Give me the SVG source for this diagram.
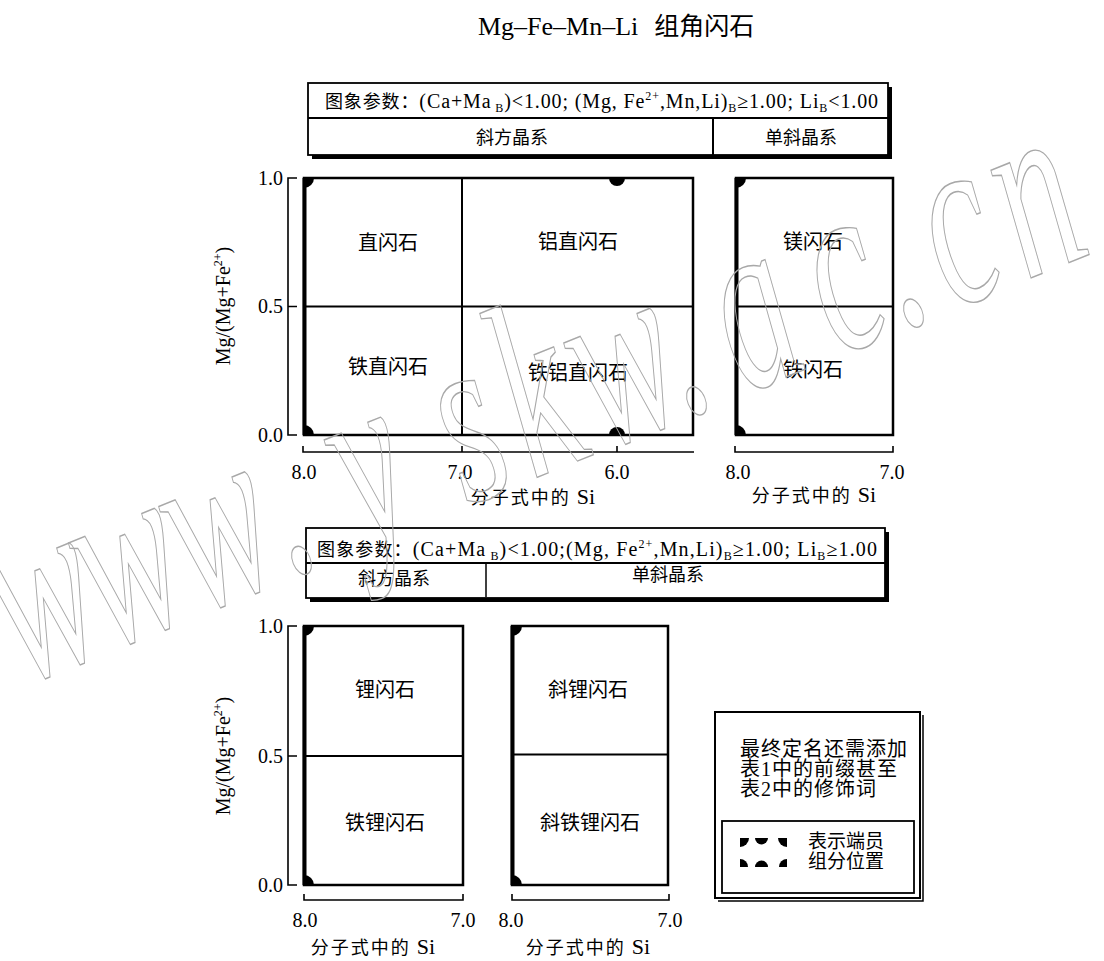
<svg xmlns="http://www.w3.org/2000/svg" width="1104" height="961" viewBox="0 0 1104 961">
<style>
.t{font-family:"Liberation Serif","Noto Sans CJK SC",serif;fill:#000}
.c{text-anchor:middle}
.e{text-anchor:end}
.f{fill:none;stroke:#000;stroke-width:2.5}
.l{fill:none;stroke:#000;stroke-width:2}
.ax{fill:none;stroke:#000;stroke-width:1.6}
.thk{fill:none;stroke:#000;stroke-width:4}
.d{fill:#000}
.si{font-size:18px;letter-spacing:2px}
.wm{font-family:"Liberation Serif",serif;font-style:italic;font-size:250px;fill:none;stroke:#a8a8a8;stroke-width:1.2}
</style>
<rect width="1104" height="961" fill="#fff"/>

<g id="title">
<text class="t" x="478" y="35" font-size="26">Mg–Fe–Mn–Li<tspan font-size="25" dx="16">组角闪石</tspan></text>
</g>

<g id="header-top">
<rect x="312" y="87" width="580" height="72" class="d"/>
<rect x="308" y="83" width="580" height="72" fill="#fff" stroke="#000" stroke-width="1.8"/>
<line x1="308" y1="118" x2="888" y2="118" class="l"/>
<line x1="713" y1="118" x2="713" y2="155" class="l"/>
<text class="t" x="325" y="108" font-size="20" textLength="553" lengthAdjust="spacing"><tspan font-size="18">图象参数：</tspan>(Ca+Ma<tspan font-size="12" dy="4"> B</tspan><tspan dy="-4">)&lt;1.00; (Mg, Fe</tspan><tspan font-size="12" dy="-8">2+</tspan><tspan dy="8">,Mn,Li)</tspan><tspan font-size="12" dy="4">B</tspan><tspan dy="-4">≥1.00; Li</tspan><tspan font-size="12" dy="4">B</tspan><tspan dy="-4">&lt;1.00</tspan></text>
<text class="t c" x="512" y="144" font-size="18">斜方晶系</text>
<text class="t c" x="801" y="144" font-size="18">单斜晶系</text>
</g>

<g id="plot-top-ortho">
<rect x="304" y="178" width="389" height="257" class="f"/>
<line x1="304.5" y1="178" x2="304.5" y2="435" class="thk"/>
<line x1="304" y1="306.5" x2="693" y2="306.5" class="l"/>
<line x1="462" y1="178" x2="462" y2="435" class="l"/>
<path class="d" d="M304,178 H314 A10,10 0 0 1 304,188 Z"/>
<path class="d" d="M304,435 V425 A10,10 0 0 1 314,435 Z"/>
<path class="d" d="M609,178 A8,8 0 0 0 625,178 Z"/>
<path class="d" d="M609,435 A8,8 0 0 1 625,435 Z"/>
<text class="t c" x="388" y="250" font-size="20">直闪石</text>
<text class="t c" x="388" y="374" font-size="20">铁直闪石</text>
<text class="t c" x="578" y="249" font-size="20">铝直闪石</text>
<text class="t c" x="578" y="380" font-size="20">铁铝直闪石</text>
</g>

<g id="plot-top-mono">
<rect x="736" y="178" width="157" height="257" class="f"/>
<line x1="736.5" y1="178" x2="736.5" y2="435" class="thk"/>
<line x1="736" y1="306.5" x2="893" y2="306.5" class="l"/>
<path class="d" d="M736,178 H746 A10,10 0 0 1 736,188 Z"/>
<path class="d" d="M736,435 V425 A10,10 0 0 1 746,435 Z"/>
<text class="t c" x="813" y="249" font-size="20">镁闪石</text>
<text class="t c" x="813" y="377" font-size="20">铁闪石</text>
</g>

<g id="axes-top">
<path class="ax" d="M297,178 H288 V435 H297 M288,306.5 H297"/>
<text class="t e" x="283" y="185" font-size="20">1.0</text>
<text class="t e" x="283" y="313" font-size="20">0.5</text>
<text class="t e" x="283" y="442" font-size="20">0.0</text>
<text class="t c" transform="translate(230,306) rotate(-90)" font-size="20">Mg/(Mg+Fe<tspan font-size="12" dy="-8">2+</tspan><tspan dy="8">)</tspan></text>
<path class="ax" d="M303,446 V452 H694 M462,446 V452 M617,446 V452"/>
<text class="t c" x="304" y="479" font-size="20">8.0</text>
<text class="t c" x="460" y="479" font-size="20">7.0</text>
<text class="t c" x="617" y="479" font-size="20">6.0</text>
<text class="t c si" x="533" y="504">分子式中的<tspan font-size="22" dx="6" letter-spacing="0">Si</tspan></text>
<path class="ax" d="M735,446 V452 H893 V446"/>
<text class="t c" x="738" y="479" font-size="20">8.0</text>
<text class="t c" x="892" y="479" font-size="20">7.0</text>
<text class="t c si" x="814" y="502">分子式中的<tspan font-size="22" dx="6" letter-spacing="0">Si</tspan></text>
</g>

<g id="header-bottom">
<rect x="310" y="532" width="579" height="70" class="d"/>
<rect x="306" y="528" width="579" height="70" fill="#fff" stroke="#000" stroke-width="1.8"/>
<line x1="306" y1="563" x2="885" y2="563" class="l"/>
<line x1="486" y1="563" x2="486" y2="597" stroke="#000" stroke-width="1.5"/>
<text class="t" x="317" y="556" font-size="20" textLength="560" lengthAdjust="spacing"><tspan font-size="18">图象参数：</tspan>(Ca+Ma<tspan font-size="12" dy="4"> B</tspan><tspan dy="-4">)&lt;1.00;(Mg, Fe</tspan><tspan font-size="12" dy="-8">2+</tspan><tspan dy="8">,Mn,Li)</tspan><tspan font-size="12" dy="4">B</tspan><tspan dy="-4">≥1.00; Li</tspan><tspan font-size="12" dy="4">B</tspan><tspan dy="-4">≥1.00</tspan></text>
<text class="t c" x="394" y="585" font-size="18">斜方晶系</text>
<text class="t c" x="668" y="581" font-size="18">单斜晶系</text>
</g>

<g id="plot-bottom-ortho">
<rect x="304" y="626" width="159" height="259" class="f"/>
<line x1="304.5" y1="626" x2="304.5" y2="885" class="thk"/>
<line x1="304" y1="756" x2="463" y2="756" class="l"/>
<path class="d" d="M304,626 H314 A10,10 0 0 1 304,636 Z"/>
<path class="d" d="M304,885 V875 A10,10 0 0 1 314,885 Z"/>
<text class="t c" x="385" y="697" font-size="20">锂闪石</text>
<text class="t c" x="385" y="830" font-size="20">铁锂闪石</text>
</g>

<g id="plot-bottom-mono">
<rect x="512" y="626" width="156" height="259" class="f"/>
<line x1="512.5" y1="626" x2="512.5" y2="885" class="thk"/>
<line x1="512" y1="754.5" x2="668" y2="754.5" class="l"/>
<path class="d" d="M512,626 H522 A10,10 0 0 1 512,636 Z"/>
<path class="d" d="M512,885 V875 A10,10 0 0 1 522,885 Z"/>
<text class="t c" x="588" y="697" font-size="20">斜锂闪石</text>
<text class="t c" x="590" y="830" font-size="20">斜铁锂闪石</text>
</g>

<g id="axes-bottom">
<path class="ax" d="M297,626 H288 V885 H297 M288,756 H297"/>
<text class="t e" x="283" y="633" font-size="20">1.0</text>
<text class="t e" x="283" y="763" font-size="20">0.5</text>
<text class="t e" x="283" y="892" font-size="20">0.0</text>
<text class="t c" transform="translate(230,756) rotate(-90)" font-size="20">Mg/(Mg+Fe<tspan font-size="12" dy="-8">2+</tspan><tspan dy="8">)</tspan></text>
<path class="ax" d="M304,894 V900 H463 V894"/>
<text class="t c" x="305" y="927" font-size="20">8.0</text>
<text class="t c" x="463" y="927" font-size="20">7.0</text>
<text class="t c si" x="373" y="954">分子式中的<tspan font-size="22" dx="6" letter-spacing="0">Si</tspan></text>
<path class="ax" d="M512,894 V900 H669 V894"/>
<text class="t c" x="511" y="927" font-size="20">8.0</text>
<text class="t c" x="670" y="927" font-size="20">7.0</text>
<text class="t c si" x="588" y="954">分子式中的<tspan font-size="22" dx="6" letter-spacing="0">Si</tspan></text>
</g>

<g id="legend">
<path d="M718,901 H923 V715" fill="none" stroke="#000" stroke-width="1.5"/>
<rect x="715" y="712" width="205" height="186" fill="#fff" stroke="#000" stroke-width="2"/>
<text class="t" x="740" y="756" font-size="20" letter-spacing="1">最终定名还需添加</text>
<text class="t" x="740" y="776" font-size="20" letter-spacing="1">表1中的前缀甚至</text>
<text class="t" x="740" y="796" font-size="20" letter-spacing="1">表2中的修饰词</text>
<rect x="722" y="821" width="192" height="72" fill="none" stroke="#000" stroke-width="1.8"/>
<path class="d" d="M740,838 H749 A9,9 0 0 1 740,847 Z"/>
<path class="d" d="M755,838 A6.5,6.5 0 0 0 768,838 Z"/>
<path class="d" d="M787,838 V847 A9,9 0 0 1 778,838 Z"/>
<path class="d" d="M740,867 V859 A8,8 0 0 1 748,867 Z"/>
<path class="d" d="M755,867 A6.5,6.5 0 0 1 768,867 Z"/>
<path class="d" d="M787,867 H779 A8,8 0 0 1 787,859 Z"/>
<text class="t" x="808" y="848" font-size="19">表示端员</text>
<text class="t" x="808" y="868" font-size="19">组分位置</text>
</g>

<g id="watermark">
<text class="wm" transform="translate(16,688) rotate(-22) scale(0.6,1)" x="95 248 410 527 680 860 985 1138 1237 1372 1533 1627 1740 1878" y="0" text-anchor="middle" vector-effect="non-scaling-stroke">www.yskw.ac.cn</text>
</g>
</svg>
